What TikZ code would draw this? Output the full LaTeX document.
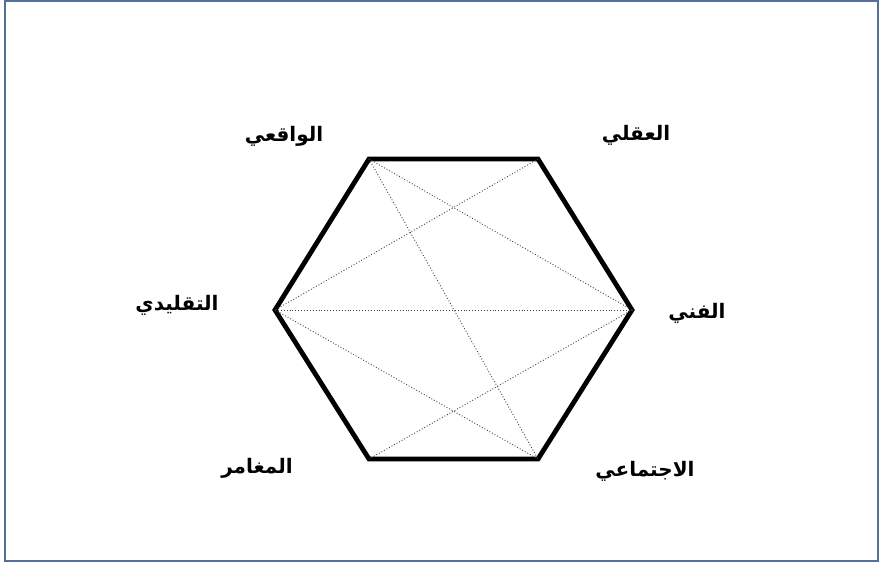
\documentclass[tikz,border=0pt]{standalone}
\usepackage{fontspec}
\newfontfamily\arabicfont[Script=Arabic]{DejaVu Sans}
\TeXXeTstate=1
\definecolor{frameblue}{RGB}{84,112,152}

\begin{document}
\begin{tikzpicture}[x=1pt, y=-1pt, every node/.style={font=\arabicfont\bfseries\fontsize{20}{22}\selectfont, inner sep=1pt},
	hexside/.style={line width=4.8pt, line join=miter},
	diag/.style={black!75, dotted, line width=0.9pt}]
	\useasboundingbox (0,0) rectangle (880,563);
	\draw[frameblue, line width=1.5pt] (5,1) rectangle (878,561);
	% vertices of the hexagon
	\coordinate (real) at (369,159);
	\coordinate (intel) at (538,159);
	\coordinate (art) at (632,310);
	\coordinate (soc) at (538,459);
	\coordinate (ent) at (369,459);
	\coordinate (conv) at (275,310);
	\draw[hexside] (real) -- (intel) -- (art) -- (soc) -- (ent) -- (conv) -- cycle;
	\draw[diag] (real) -- (art); \draw[diag] (real) -- (soc);
	\draw[diag] (intel) -- (conv); \draw[diag] (conv) -- (art);
	\draw[diag] (conv) -- (soc); \draw[diag] (art) -- (ent);
	% labels
	\node (realLbl) at (284,136) {\beginR الواقعي\endR};
	\node (intelLbl) at (636,135) {\beginR العقلي\endR};
	\node (convLbl) at (177,305) {\beginR التقليدي\endR};
	\node (artLbl) at (697,313) {\beginR الفني\endR};
	\node (entLbl) at (257,468) {\beginR المغامر\endR};
	\node (socLbl) at (645,471) {\beginR الاجتماعي\endR};
\end{tikzpicture}
\end{document}
